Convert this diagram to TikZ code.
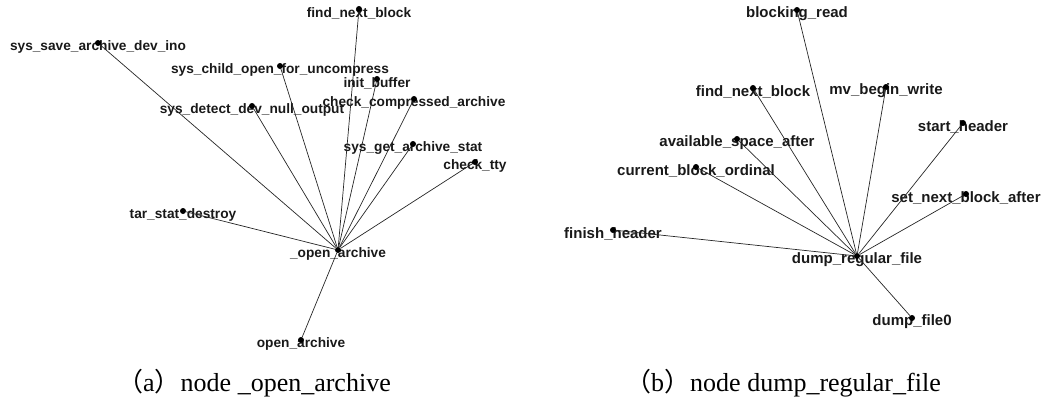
\documentclass[tikz,border=0pt]{standalone}
\usepackage{fontspec}
\setmainfont{Liberation Serif}
\newfontfamily\lblfont{Liberation Sans}
\newfontfamily\cjkfont{Noto Sans CJK SC}
\usetikzlibrary{positioning}
\tikzset{
	vtx/.style  ={circle, fill=black, inner sep=0pt, minimum size=6pt},
	lblA/.style ={font=\lblfont\bfseries\fontsize{13.7}{15}\selectfont, inner sep=0pt, text=black!90},
	lblB/.style ={font=\lblfont\bfseries\fontsize{15}{16}\selectfont, inner sep=0pt, text=black!90},
	edge/.style ={draw=black!85, line width=0.7pt},
	capt/.style ={font=\fontsize{26}{28}\selectfont, inner sep=0pt},
}
\begin{document}
\begin{tikzpicture}[x=1pt, y=-1pt]
	\useasboundingbox (0,0) rectangle (1043,399);
	% (a) neighbours of _open_archive
	\foreach \n/\x/\y/\t in {findnext/359/9/find\_next\_block, savedev/98/43/sys\_save\_archive\_dev\_ino,
		childopen/280/66/sys\_child\_open\_for\_uncompress, initbuf/377/79/init\_buffer,
		checkcomp/414/99/check\_compressed\_archive, devnull/252/106/sys\_detect\_dev\_null\_output,
		getstat/413/144/sys\_get\_archive\_stat, checktty/475/162/check\_tty,
		statdestroy/183/211/tar\_stat\_destroy, openarch/338/250/\_open\_archive,
		openarchive/301/340/open\_archive}{
		\node[lblA] at (\x,\y+4) {\t};
		\node[vtx] (\n) at (\x,\y) {};
	}
	\foreach \m in {findnext, savedev, childopen, initbuf, checkcomp, devnull, getstat, checktty, statdestroy, openarchive}
		\draw[edge] (openarch) -- (\m);
	% (b) neighbours of dump_regular_file
	\foreach \n/\x/\y/\t in {blockread/797/10/blocking\_read, findnextb/753/88/find\_next\_block,
		beginwrite/886/87/mv\_begin\_write, startheader/963/123/start\_header,
		spaceafter/737/139/available\_space\_after, blockord/696/167/current\_block\_ordinal,
		nextafter/966/194/set\_next\_block\_after, finishheader/613/230/finish\_header,
		dumpreg/857/256/dump\_regular\_file, dumpfile/912/318/dump\_file0}{
		\node[lblB] at (\x,\y+4) {\t};
		\node[vtx] (\n) at (\x,\y) {};
	}
	\foreach \m in {blockread, findnextb, beginwrite, startheader, spaceafter, blockord, nextafter, finishheader, dumpfile}
		\draw[edge] (dumpreg) -- (\m);
	% captions
	\node[capt] (capa) at (254,383) {{\cjkfont （}a{\cjkfont ）}node \_open\_archive};
	\node[capt] (capb) at (783,383) {{\cjkfont （}b{\cjkfont ）}node dump\_regular\_file};
\end{tikzpicture}
\end{document}
